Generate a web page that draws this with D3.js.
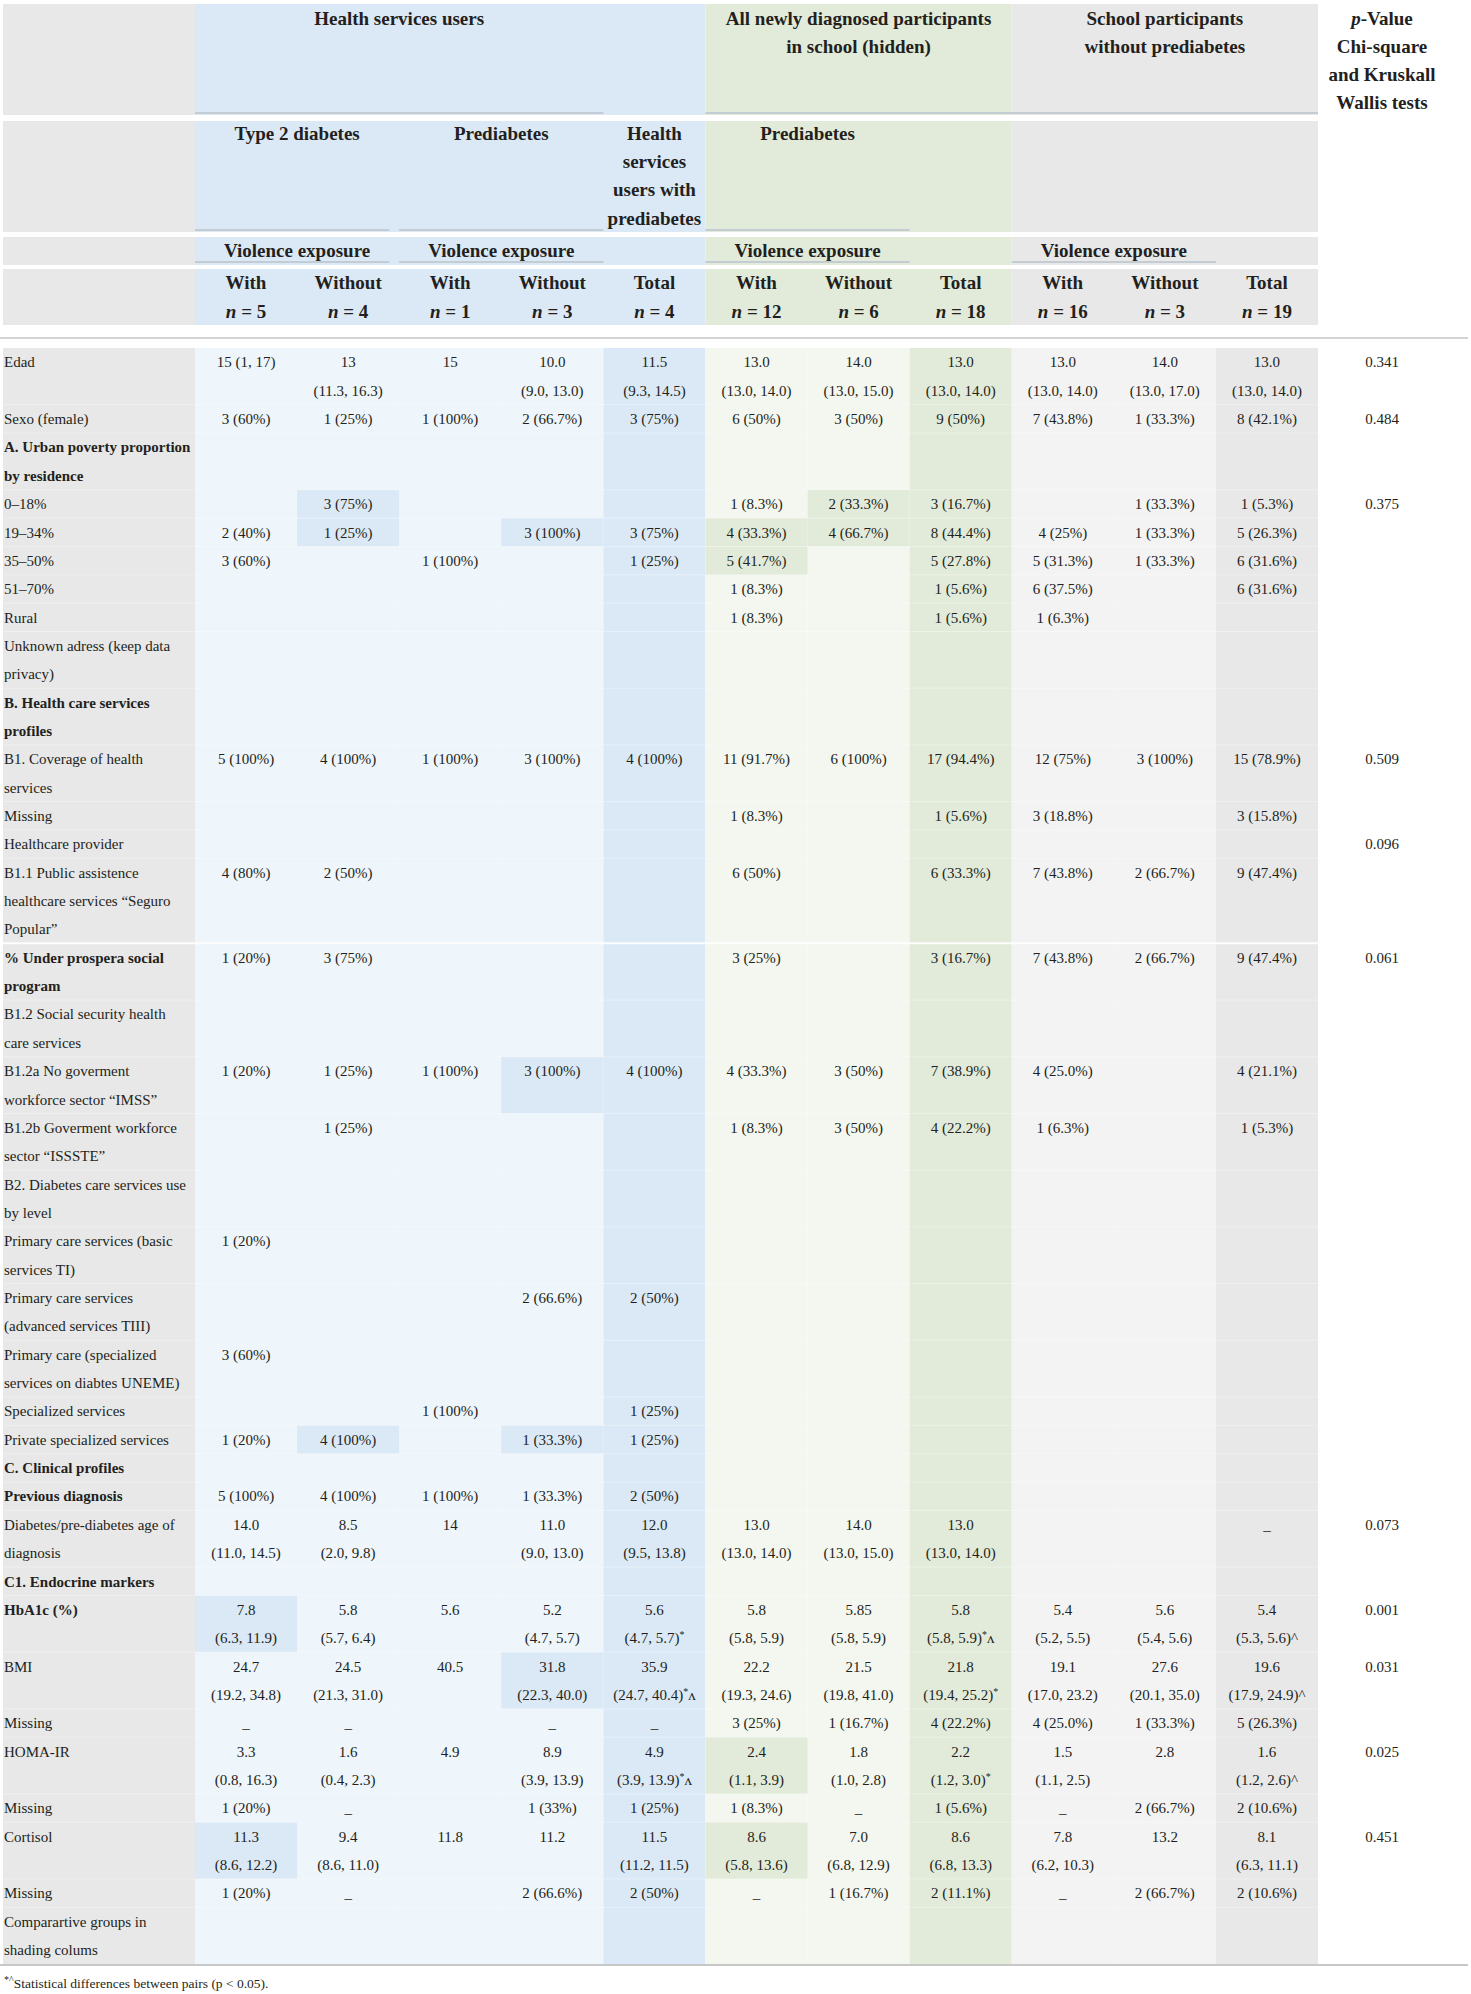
<!DOCTYPE html>
<html>
<head>
<meta charset="utf-8">
<script src="https://cdn.jsdelivr.net/npm/d3@7"></script>
<style>
  body { margin: 0; background: #fff; }
  svg text { font-family: "Liberation Serif", "Times New Roman", serif; fill: #231f20; }
</style>
</head>
<body>
<div id="table"></div>
<script>
let w = 1471;
let h = 1994;

// ---- data ----
let colKeys = ["t2dWith", "t2dWithout", "preWith", "preWithout", "hsuTotal",
               "grWith", "grWithout", "grTotal", "scWith", "scWithout", "scTotal"];
let subLabels = ["With", "Without", "With", "Without", "Total",
                 "With", "Without", "Total", "With", "Without", "Total"];
let nValues = [5, 4, 1, 3, 4, 12, 6, 18, 16, 3, 19];

let rowLabels = [
  "Edad",
  "Sexo (female)",
  "A. Urban poverty proportion\nby residence",
  "0–18%",
  "19–34%",
  "35–50%",
  "51–70%",
  "Rural",
  "Unknown adress (keep data\nprivacy)",
  "B. Health care services\nprofiles",
  "B1. Coverage of health\nservices",
  "Missing",
  "Healthcare provider",
  "B1.1 Public assistence\nhealthcare services “Seguro\nPopular”",
  "% Under prospera social\nprogram",
  "B1.2 Social security health\ncare services",
  "B1.2a No goverment\nworkforce sector “IMSS”",
  "B1.2b Goverment workforce\nsector “ISSSTE”",
  "B2. Diabetes care services use\nby level",
  "Primary care services (basic\nservices TI)",
  "Primary care services\n(advanced services TIII)",
  "Primary care (specialized\nservices on diabtes UNEME)",
  "Specialized services",
  "Private specialized services",
  "C. Clinical profiles",
  "Previous diagnosis",
  "Diabetes/pre-diabetes age of\ndiagnosis",
  "C1. Endocrine markers",
  "HbA1c (%)",
  "BMI",
  "Missing",
  "HOMA-IR",
  "Missing",
  "Cortisol",
  "Missing",
  "Comparartive groups in\nshading colums"
];
let boldRows = [2, 9, 14, 24, 25, 27, 28];

let t2dWith = ["15 (1, 17)", "3 (60%)", "", "", "2 (40%)", "3 (60%)", "", "", "", "",
  "5 (100%)", "", "", "4 (80%)", "1 (20%)", "", "1 (20%)", "", "", "1 (20%)",
  "", "3 (60%)", "", "1 (20%)", "", "5 (100%)", "14.0\n(11.0, 14.5)", "", "7.8\n(6.3, 11.9)", "24.7\n(19.2, 34.8)",
  "_", "3.3\n(0.8, 16.3)", "1 (20%)", "11.3\n(8.6, 12.2)", "1 (20%)", ""];
let t2dWithout = ["13\n(11.3, 16.3)", "1 (25%)", "", "3 (75%)", "1 (25%)", "", "", "", "", "",
  "4 (100%)", "", "", "2 (50%)", "3 (75%)", "", "1 (25%)", "1 (25%)", "", "",
  "", "", "", "4 (100%)", "", "4 (100%)", "8.5\n(2.0, 9.8)", "", "5.8\n(5.7, 6.4)", "24.5\n(21.3, 31.0)",
  "_", "1.6\n(0.4, 2.3)", "_", "9.4\n(8.6, 11.0)", "_", ""];
let preWith = ["15", "1 (100%)", "", "", "", "1 (100%)", "", "", "", "",
  "1 (100%)", "", "", "", "", "", "1 (100%)", "", "", "",
  "", "", "1 (100%)", "", "", "1 (100%)", "14", "", "5.6", "40.5",
  "", "4.9", "", "11.8", "", ""];
let preWithout = ["10.0\n(9.0, 13.0)", "2 (66.7%)", "", "", "3 (100%)", "", "", "", "", "",
  "3 (100%)", "", "", "", "", "", "3 (100%)", "", "", "",
  "2 (66.6%)", "", "", "1 (33.3%)", "", "1 (33.3%)", "11.0\n(9.0, 13.0)", "", "5.2\n(4.7, 5.7)", "31.8\n(22.3, 40.0)",
  "_", "8.9\n(3.9, 13.9)", "1 (33%)", "11.2", "2 (66.6%)", ""];
let hsuTotal = ["11.5\n(9.3, 14.5)", "3 (75%)", "", "", "3 (75%)", "1 (25%)", "", "", "", "",
  "4 (100%)", "", "", "", "", "", "4 (100%)", "", "", "",
  "2 (50%)", "", "1 (25%)", "1 (25%)", "", "2 (50%)", "12.0\n(9.5, 13.8)", "", "5.6\n(4.7, 5.7)*", "35.9\n(24.7, 40.4)*ʌ",
  "_", "4.9\n(3.9, 13.9)*ʌ", "1 (25%)", "11.5\n(11.2, 11.5)", "2 (50%)", ""];
let grWith = ["13.0\n(13.0, 14.0)", "6 (50%)", "", "1 (8.3%)", "4 (33.3%)", "5 (41.7%)", "1 (8.3%)", "1 (8.3%)", "", "",
  "11 (91.7%)", "1 (8.3%)", "", "6 (50%)", "3 (25%)", "", "4 (33.3%)", "1 (8.3%)", "", "",
  "", "", "", "", "", "", "13.0\n(13.0, 14.0)", "", "5.8\n(5.8, 5.9)", "22.2\n(19.3, 24.6)",
  "3 (25%)", "2.4\n(1.1, 3.9)", "1 (8.3%)", "8.6\n(5.8, 13.6)", "_", ""];
let grWithout = ["14.0\n(13.0, 15.0)", "3 (50%)", "", "2 (33.3%)", "4 (66.7%)", "", "", "", "", "",
  "6 (100%)", "", "", "", "", "", "3 (50%)", "3 (50%)", "", "",
  "", "", "", "", "", "", "14.0\n(13.0, 15.0)", "", "5.85\n(5.8, 5.9)", "21.5\n(19.8, 41.0)",
  "1 (16.7%)", "1.8\n(1.0, 2.8)", "_", "7.0\n(6.8, 12.9)", "1 (16.7%)", ""];
let grTotal = ["13.0\n(13.0, 14.0)", "9 (50%)", "", "3 (16.7%)", "8 (44.4%)", "5 (27.8%)", "1 (5.6%)", "1 (5.6%)", "", "",
  "17 (94.4%)", "1 (5.6%)", "", "6 (33.3%)", "3 (16.7%)", "", "7 (38.9%)", "4 (22.2%)", "", "",
  "", "", "", "", "", "", "13.0\n(13.0, 14.0)", "", "5.8\n(5.8, 5.9)*ʌ", "21.8\n(19.4, 25.2)*",
  "4 (22.2%)", "2.2\n(1.2, 3.0)*", "1 (5.6%)", "8.6\n(6.8, 13.3)", "2 (11.1%)", ""];
let scWith = ["13.0\n(13.0, 14.0)", "7 (43.8%)", "", "", "4 (25%)", "5 (31.3%)", "6 (37.5%)", "1 (6.3%)", "", "",
  "12 (75%)", "3 (18.8%)", "", "7 (43.8%)", "7 (43.8%)", "", "4 (25.0%)", "1 (6.3%)", "", "",
  "", "", "", "", "", "", "", "", "5.4\n(5.2, 5.5)", "19.1\n(17.0, 23.2)",
  "4 (25.0%)", "1.5\n(1.1, 2.5)", "_", "7.8\n(6.2, 10.3)", "_", ""];
let scWithout = ["14.0\n(13.0, 17.0)", "1 (33.3%)", "", "1 (33.3%)", "1 (33.3%)", "1 (33.3%)", "", "", "", "",
  "3 (100%)", "", "", "2 (66.7%)", "2 (66.7%)", "", "", "", "", "",
  "", "", "", "", "", "", "", "", "5.6\n(5.4, 5.6)", "27.6\n(20.1, 35.0)",
  "1 (33.3%)", "2.8", "2 (66.7%)", "13.2", "2 (66.7%)", ""];
let scTotal = ["13.0\n(13.0, 14.0)", "8 (42.1%)", "", "1 (5.3%)", "5 (26.3%)", "6 (31.6%)", "6 (31.6%)", "", "", "",
  "15 (78.9%)", "3 (15.8%)", "", "9 (47.4%)", "9 (47.4%)", "", "4 (21.1%)", "1 (5.3%)", "", "",
  "", "", "", "", "", "", "_", "", "5.4\n(5.3, 5.6)^", "19.6\n(17.9, 24.9)^",
  "5 (26.3%)", "1.6\n(1.2, 2.6)^", "2 (10.6%)", "8.1\n(6.3, 11.1)", "2 (10.6%)", ""];
let pValues = ["0.341", "0.484", "", "0.375", "", "", "", "", "", "",
  "0.509", "", "0.096", "", "0.061", "", "", "", "", "",
  "", "", "", "", "", "", "0.073", "", "0.001", "0.031",
  "", "0.025", "", "0.451", "", ""];

// shaded comparison cells [row, column]
let highlights = [
  [3, "t2dWithout"], [4, "t2dWithout"], [4, "preWithout"], [16, "preWithout"],
  [23, "t2dWithout"], [23, "preWithout"], [28, "t2dWith"], [29, "preWithout"], [33, "t2dWith"],
  [3, "grWithout"], [4, "grWith"], [4, "grWithout"], [5, "grWith"], [31, "grWith"], [33, "grWith"]
];

let columns = {
  t2dWith: t2dWith, t2dWithout: t2dWithout, preWith: preWith, preWithout: preWithout,
  hsuTotal: hsuTotal, grWith: grWith, grWithout: grWithout, grTotal: grTotal,
  scWith: scWith, scWithout: scWithout, scTotal: scTotal
};

// ---- layout ----
let labelX = 3;
let bodyTop = 348;
let bodyBottom = 1964;
let pX = 1382;

let x = d3.scaleBand().domain(colKeys).range([195, 1318]);
let bw = x.bandwidth();

let blueHead = "#dbe9f6", greenHead = "#e2ebd9", grayHead = "#e8e8e8";
let colFill = {
  t2dWith: "#eef5fb", t2dWithout: "#eef5fb", preWith: "#eef5fb", preWithout: "#eef5fb", hsuTotal: "#dbe9f6",
  grWith: "#f3f7ef", grWithout: "#f3f7ef", grTotal: "#e2ebd9",
  scWith: "#f3f3f3", scWithout: "#f3f3f3", scTotal: "#e8e8e8"
};
let hiFill = function (k) { return k.startsWith("gr") ? greenHead : blueHead; };

// lines per row
let rowLines = rowLabels.map(function (lab, i) {
  let n = lab.split("\n").length;
  colKeys.forEach(function (k) {
    n = Math.max(n, columns[k][i].split("\n").length);
  });
  return n;
});
let rowStart = [];
rowLines.reduce(function (acc, n, i) { rowStart[i] = acc; return acc + n; }, 0);
let totalLines = d3.sum(rowLines);

let y = d3.scaleLinear().domain([0, totalLines]).range([bodyTop, bodyBottom]);
let lh = y(1) - y(0);

let svg = d3.select("#table")
  .append("svg")
  .attr("width", w)
  .attr("height", h)
  .attr("viewBox", "0 0 " + w + " " + h);

// ---- header ----
let headRows = [[4, 115], [121, 232], [237, 265], [269, 325]];
let headBands = [
  { x0: labelX, x1: x("t2dWith"), fill: grayHead },
  { x0: x("t2dWith"), x1: x("grWith"), fill: blueHead },
  { x0: x("grWith"), x1: x("scWith"), fill: greenHead },
  { x0: x("scWith"), x1: x("scTotal") + bw, fill: grayHead }
];
headRows.forEach(function (r) {
  svg.append("g").selectAll("rect").data(headBands).enter()
    .append("rect")
    .attr("x", function (d) { return d.x0; })
    .attr("y", r[0])
    .attr("width", function (d) { return d.x1 - d.x0; })
    .attr("height", r[1] - r[0])
    .attr("fill", function (d) { return d.fill; });
});

function span(a, b) { return [x(a), x(b) + bw]; }

// group underlines
let rules = [
  { s: span("t2dWith", "preWithout"), y: 113 },
  { s: span("grWith", "scTotal"), y: 113 },
  { s: span("t2dWith", "t2dWithout"), y: 230, inset: 10 },
  { s: span("preWith", "preWithout"), y: 230 },
  { s: span("grWith", "grWithout"), y: 230 },
  { s: span("t2dWith", "t2dWithout"), y: 262, inset: 10 },
  { s: span("preWith", "preWithout"), y: 262 },
  { s: span("grWith", "grWithout"), y: 262 },
  { s: span("scWith", "scWithout"), y: 262 }
];
svg.append("g").selectAll("line").data(rules).enter()
  .append("line")
  .attr("x1", function (d) { return d.s[0]; })
  .attr("x2", function (d) { return d.s[1] - (d.inset || 0); })
  .attr("y1", function (d) { return d.y; })
  .attr("y2", function (d) { return d.y; })
  .attr("stroke", "#c4ccd3")
  .attr("stroke-width", 2);

function headText(lines, cx, y0, pitch) {
  lines.forEach(function (t, i) {
    svg.append("text")
      .attr("x", cx)
      .attr("y", y0 + i * pitch)
      .attr("dy", "0.35em")
      .attr("text-anchor", "middle")
      .attr("font-size", 19)
      .attr("font-weight", "bold")
      .text(t);
  });
}
function mid(a, b) { let s = span(a, b); return (s[0] + s[1]) / 2; }

headText(["Health services users"], mid("t2dWith", "preWithout"), 18, 28);
headText(["All newly diagnosed participants", "in school (hidden)"], mid("grWith", "grTotal"), 18, 28);
headText(["School participants", "without prediabetes"], mid("scWith", "scTotal"), 18, 28);
headText(["Chi-square", "and Kruskall", "Wallis tests"], pX, 46, 28);
let pv = svg.append("text")
  .attr("x", pX).attr("y", 18).attr("dy", "0.35em")
  .attr("text-anchor", "middle").attr("font-size", 19).attr("font-weight", "bold");
pv.append("tspan").attr("font-style", "italic").text("p");
pv.append("tspan").text("-Value");

headText(["Type 2 diabetes"], mid("t2dWith", "t2dWithout"), 133, 28);
headText(["Prediabetes"], mid("preWith", "preWithout"), 133, 28);
headText(["Health", "services", "users with", "prediabetes"], mid("hsuTotal", "hsuTotal"), 133, 28.4);
headText(["Prediabetes"], mid("grWith", "grWithout"), 133, 28);

[["t2dWith", "t2dWithout"], ["preWith", "preWithout"], ["grWith", "grWithout"], ["scWith", "scWithout"]]
  .forEach(function (p) { headText(["Violence exposure"], mid(p[0], p[1]), 250, 28); });

colKeys.forEach(function (k, i) {
  headText([subLabels[i]], x(k) + bw / 2, 282, 28);
  let t = svg.append("text")
    .attr("x", x(k) + bw / 2).attr("y", 311).attr("dy", "0.35em")
    .attr("text-anchor", "middle").attr("font-size", 19).attr("font-weight", "bold");
  t.append("tspan").attr("font-style", "italic").text("n");
  t.append("tspan").text(" = " + nValues[i]);
});

// header bottom rule
svg.append("line")
  .attr("x1", 0).attr("x2", 1468).attr("y1", 338).attr("y2", 338)
  .attr("stroke", "#d3d3d3").attr("stroke-width", 2);

// ---- body backgrounds ----
svg.append("rect")
  .attr("x", labelX).attr("y", bodyTop)
  .attr("width", x("t2dWith") - labelX).attr("height", bodyBottom - bodyTop)
  .attr("fill", grayHead);

svg.append("g").selectAll("rect").data(colKeys).enter()
  .append("rect")
  .attr("x", function (d) { return x(d); })
  .attr("y", bodyTop)
  .attr("width", bw)
  .attr("height", bodyBottom - bodyTop)
  .attr("fill", function (d) { return colFill[d]; });

svg.append("g").selectAll("rect").data(highlights).enter()
  .append("rect")
  .attr("x", function (d) { return x(d[1]); })
  .attr("y", function (d) { return y(rowStart[d[0]]); })
  .attr("width", bw)
  .attr("height", function (d) { return rowLines[d[0]] * lh; })
  .attr("fill", function (d) { return hiFill(d[1]); });

// faint row separators
svg.append("g").selectAll("line").data(d3.range(1, rowLabels.length)).enter()
  .append("line")
  .attr("x1", labelX).attr("x2", x("scTotal") + bw)
  .attr("y1", function (i) { return y(rowStart[i]); })
  .attr("y2", function (i) { return y(rowStart[i]); })
  .attr("stroke", "#ffffff")
  .attr("stroke-opacity", function (i) { return i === 14 ? 0.9 : 0.35; })
  .attr("stroke-width", function (i) { return i === 14 ? 2 : 1; });

// ---- body text ----
function addRich(textSel, str) {
  str.split(/(\*)/).forEach(function (part) {
    if (part === "") return;
    if (part === "*") {
      textSel.append("tspan").attr("font-size", 10).attr("baseline-shift", "super").text("*");
    } else {
      textSel.append("tspan").text(part);
    }
  });
}

function cellText(str, cx, row, anchor, bold) {
  str.split("\n").forEach(function (line, j) {
    let t = svg.append("text")
      .attr("x", cx)
      .attr("y", y(rowStart[row] + j + 0.5))
      .attr("dy", "0.35em")
      .attr("text-anchor", anchor)
      .attr("font-size", 15)
      .attr("font-weight", bold ? "bold" : "normal");
    addRich(t, line);
  });
}

rowLabels.forEach(function (lab, i) {
  cellText(lab, labelX + 1, i, "start", boldRows.includes(i));
  colKeys.forEach(function (k) {
    let v = columns[k][i];
    if (v !== "") cellText(v, x(k) + bw / 2, i, "middle", false);
  });
  if (pValues[i] !== "") cellText(pValues[i], pX, i, "middle", false);
});

// bottom rule + footnote
svg.append("line")
  .attr("x1", 0).attr("x2", 1468).attr("y1", bodyBottom + 1).attr("y2", bodyBottom + 1)
  .attr("stroke", "#c8c8c8").attr("stroke-width", 2);

let fn = svg.append("text")
  .attr("x", labelX + 1).attr("y", 1983).attr("dy", "0.35em")
  .attr("font-size", 13.5);
fn.append("tspan").attr("font-size", 10).attr("baseline-shift", "super").text("*^");
fn.append("tspan").text("Statistical differences between pairs (p < 0.05).");
</script>
</body>
</html>
